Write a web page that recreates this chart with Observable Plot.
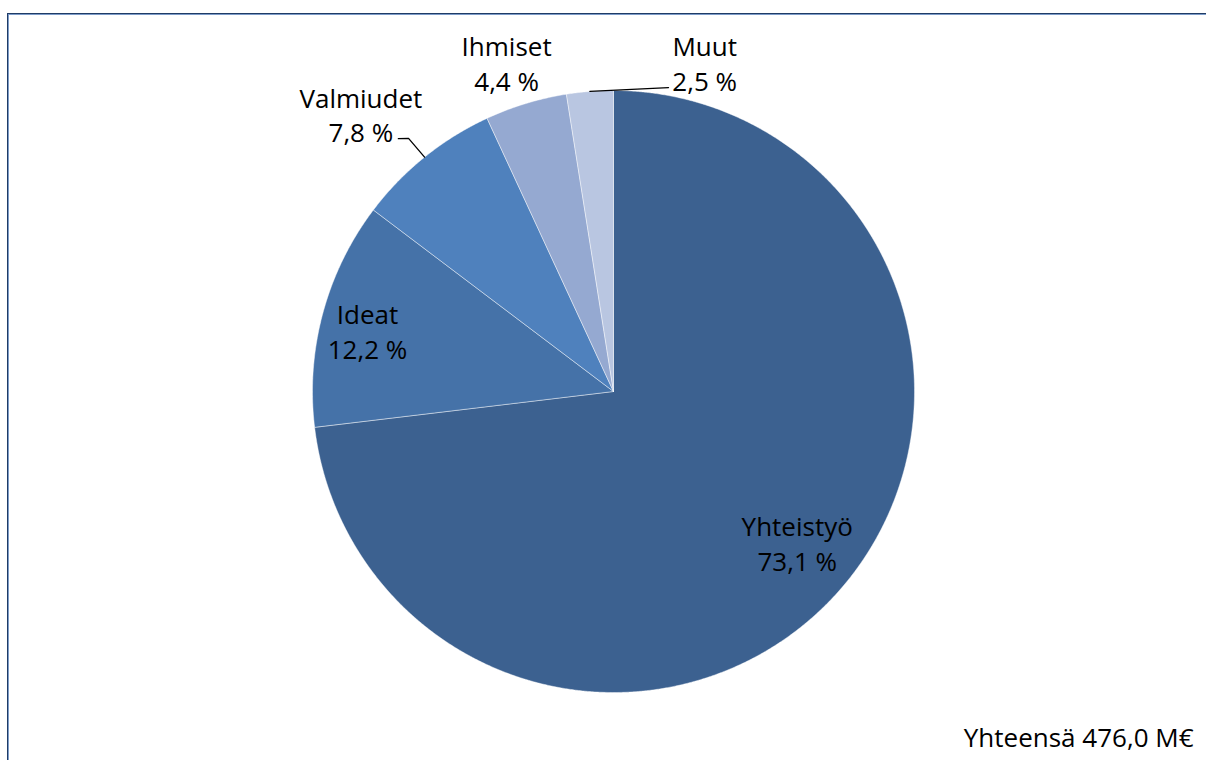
<!DOCTYPE html>
<html>
<head>
<meta charset="utf-8">
<script src="https://cdn.jsdelivr.net/npm/d3@7"></script>
<script src="https://cdn.jsdelivr.net/npm/@observablehq/plot@0.6"></script>
<style>
  html, body { margin: 0; padding: 0; background: #fff; overflow: hidden; }
  #frame { position: absolute; left: 7px; top: 13px; width: 1400px; height: 1000px;
           border-left: 1px solid #203C66; border-top: 1px solid #203C66;
           box-shadow: inset 1px 1px 0 #7C9BC8; }
  #chart { position: absolute; left: 0; top: 0; }
</style>
</head>
<body>
<div id="frame"></div>
<div id="chart"></div>
<script>
// ---- data ----
const names = ["Yhteistyö", "Ideat", "Valmiudet", "Ihmiset", "Muut"];
const shares = [73.1, 12.2, 7.8, 4.4, 2.5];
const totalLabel = "Yhteensä 476,0 M€";

// ---- styles / layout ----
const colors = ["#3C6190", "#4572A8", "#4F81BD", "#95A9D1", "#B9C6E1"];
const W = 1206, H = 760, CX = 613, CY = 391, R = 301;
// label positions (polar: angle in degrees clockwise from 12 o'clock, radius as fraction of R)
const labelPolar = {
  "Yhteistyö": [129.4, 0.79],
  "Ideat": [283.9, 0.842],
  "Valmiudet": [317.7, 1.247],
  "Ihmiset": [342.0, 1.149],
  "Muut": [15.5, 1.134]
};
// leader line elbows (polar) for labels outside the pie
const leaderPolar = {
  "Valmiudet": [[321.0, 1.082], [319.6, 1.103]],
  "Muut": [[10.26, 1.026]]
};

const fmt = v => v.toFixed(1).replace(".", ",") + " %";
const rows = names.map((name, i) => ({name, share: shares[i]}));
const arcs = d3.pie().sort(null).value(d => d.share)(rows);
const polar = (a, r) => ({x: r * Math.sin(a), y: r * Math.cos(a)});
const deg = Math.PI / 180;

const slicePts = [];
for (const a of arcs) {
  const name = a.data.name;
  slicePts.push({name, x: 0, y: 0});
  const n = Math.max(2, Math.ceil((a.endAngle - a.startAngle) / (0.25 * deg)));
  for (let k = 0; k <= n; k++) {
    const t = a.startAngle + (a.endAngle - a.startAngle) * k / n;
    slicePts.push({name, ...polar(t, 1)});
  }
  slicePts.push({name, x: 0, y: 0});
}

const labels = arcs.map(a => {
  const [ang, r] = labelPolar[a.data.name];
  return {text: a.data.name + "\n" + fmt(a.data.share), ...polar(ang * deg, r)};
});

const leaders = [];
for (const a of arcs) {
  const el = leaderPolar[a.data.name];
  if (!el) continue;
  const mid = (a.startAngle + a.endAngle) / 2;
  leaders.push({name: a.data.name, ...polar(mid, 1)});
  for (const [ang, r] of el) leaders.push({name: a.data.name, ...polar(ang * deg, r)});
}

const chart = Plot.plot({
  width: W, height: H,
  margin: 0,
  x: {domain: [-CX / R, (W - CX) / R], axis: null},
  y: {domain: [-(H - CY) / R, CY / R], axis: null},
  color: {domain: names, range: colors},
  style: {fontFamily: "'Open Sans', Lato, sans-serif", background: "transparent", overflow: "visible"},
  marks: [
    Plot.line(slicePts, {x: "x", y: "y", z: "name", fill: "name", stroke: "#ffffff", strokeWidth: 0.8, strokeOpacity: 0.55, curve: "linear"}),
    Plot.line(leaders, {x: "x", y: "y", z: "name", stroke: "#000", strokeWidth: 1.3}),
    Plot.text(labels, {x: "x", y: "y", text: "text", fontSize: 26, lineHeight: 1.34, fill: "#000", lineAnchor: "middle"}),
    Plot.text([totalLabel], {frameAnchor: "bottom-right", text: d => d, dx: -13, dy: -14, fontSize: 26, fill: "#000", textAnchor: "end", lineAnchor: "bottom"})
  ]
});
document.getElementById("chart").appendChild(chart);
</script>
</body>
</html>
